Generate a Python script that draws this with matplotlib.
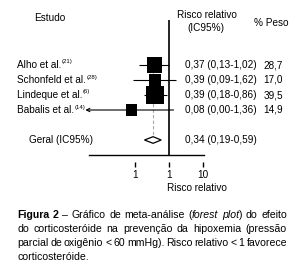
import matplotlib
matplotlib.use("Agg")
import matplotlib.pyplot as plt
import matplotlib.transforms as mtransforms
from matplotlib.patches import Polygon
from matplotlib.ticker import NullLocator

plt.rcParams['font.family'] = ['Liberation Sans Narrow', 'Liberation Sans', 'DejaVu Sans']

# ==============================
# DATA
# ==============================

studies = ["Alho et al.", "Schonfeld et al.", "Lindeque et al.", "Babalis et al."]
refs = ["(21)", "(28)", "(6)", "(14)"]
rr = [0.37, 0.39, 0.39, 0.08]
ci_low = [0.13, 0.09, 0.18, 0.00]
ci_high = [1.02, 1.62, 0.86, 1.36]
weights = [28.7, 17.0, 39.5, 14.9]

pooled_label = "Geral (IC95%)"
pooled_rr = 0.34
pooled_low = 0.19
pooled_high = 0.59

xticks = [0.1, 1, 10]
xtick_labels = ["1", "1", "10"]

caption = [
    [[("Figura", "bold", "normal")], [("2", "bold", "normal")], "–", "Gráfico", "de",
     "meta-análise", [("(", "normal", "normal"), ("forest", "normal", "italic")],
     [("plot", "normal", "italic"), (")", "normal", "normal")], "do", "efeito"],
    ["do", "corticosteróide", "na", "prevenção", "da", "hipoxemia", "(pressão"],
    ["parcial", "de", "oxigênio", "<", "60", "mmHg).", "Risco", "relativo", "<", "1", "favorece"],
]
caption_last = "corticosteróide."

# ==============================
# FIGURE SETUP
# ==============================

W, H = 304, 280
fig = plt.figure(figsize=(W / 100, H / 100), dpi=100)


def fx(x):
    return x / W


def fy(y):
    return 1 - y / H


fs = 7.2
ax = fig.add_axes([fx(89), fy(155), fx(204) - fx(89), fy(20) - fy(155)])
ax.set_xscale("log")
ax.set_xlim(10 ** (-80 / 34), 10 ** (35 / 34))
ax.set_ylim(6, -3)
ax.patch.set_alpha(0)

for side in ["top", "right", "left"]:
    ax.spines[side].set_visible(False)
ax.spines["bottom"].set_position(("outward", 5))
ax.spines["bottom"].set_color("none")
ax.axhline(6, color="black", lw=1.0, clip_on=False)
ax.set_yticks([])
ax.xaxis.set_minor_locator(NullLocator())
ax.set_xticks(xticks, xtick_labels)
ax.tick_params(axis="x", direction="out", length=3.6, width=1, labelsize=fs, pad=2)

# ==============================
# FOREST PLOT
# ==============================

rows = list(range(len(studies)))
left_edge = ax.get_xlim()[0]

ax.axvline(1, color="black", lw=1.2, zorder=2)
ax.vlines(pooled_rr, -0.4, 5 - 0.2, colors="#a8a8a8", linestyles=(0, (3, 2)), lw=0.8, zorder=1)

for r, lo, hi in zip(rows, ci_low, ci_high):
    if lo <= left_edge:
        ax.annotate("", xy=(left_edge * 0.78, r), xytext=(hi, r),
                    arrowprops=dict(arrowstyle="->", lw=0.8, color="black",
                                    shrinkA=0, shrinkB=0, mutation_scale=6),
                    annotation_clip=False)
    else:
        ax.hlines(r, lo, hi, colors="black", lw=0.8, zorder=2)

ax.scatter(rr, rows, s=[4.27 * w for w in weights], marker="s", color="black",
           linewidths=0, zorder=3)

diamond = Polygon([(pooled_low, 5), (pooled_rr, 5 - 0.22), (pooled_high, 5), (pooled_rr, 5 + 0.22)],
                  closed=True, facecolor="white", edgecolor="black", lw=0.9, zorder=3)
ax.add_patch(diamond)

# ==============================
# TEXT COLUMNS
# ==============================

trans = mtransforms.blended_transform_factory(fig.transFigure, ax.transData)

fig.text(fx(50), fy(18), "Estudo", ha="center", va="center", fontsize=fs)
fig.text(fx(207), fy(15), "Risco relativo", ha="center", va="center", fontsize=fs)
fig.text(fx(206), fy(28), "(IC95%)", ha="center", va="center", fontsize=fs)
fig.text(fx(271), fy(23), "% Peso", ha="center", va="center", fontsize=fs)
fig.text(fx(197), fy(188), "Risco relativo", ha="center", va="center", fontsize=fs)

fig.canvas.draw()
renderer = fig.canvas.get_renderer()


def fmt(v):
    return f"{v:.2f}".replace(".", ",")


for r, name, ref, est, lo, hi, w in zip(rows, studies, refs, rr, ci_low, ci_high, weights):
    t = ax.text(fx(17), r, name, transform=trans, ha="left", va="center", fontsize=fs)
    bb = t.get_window_extent(renderer)
    fig.text((bb.x1 + 0.5) / W, (bb.y1 + 0.5) / H, ref, ha="left", va="top", fontsize=4.3)
    ax.text(fx(185), r, f"{fmt(est)} ({fmt(lo)}-{fmt(hi)})", transform=trans,
            ha="left", va="center", fontsize=fs)
    ax.text(fx(283), r, f"{w:.1f}".replace(".", ","), transform=trans,
            ha="right", va="center", fontsize=fs)

ax.text(fx(29), 5, pooled_label, transform=trans, ha="left", va="center", fontsize=fs)
ax.text(fx(185), 5, f"{fmt(pooled_rr)} ({fmt(pooled_low)}-{fmt(pooled_high)})", transform=trans,
        ha="left", va="center", fontsize=fs)

# ==============================
# CAPTION (justified)
# ==============================

cap_fs = 7.6


def draw_line(words, y, x0, x1):
    items = []
    for word in words:
        if isinstance(word, str):
            word = [(word, "normal", "normal")]
        segs = []
        for text, weight, style in word:
            t = fig.text(0, fy(y), text, fontsize=cap_fs, fontweight=weight,
                         fontstyle=style, ha="left", va="center")
            segs.append((t, t.get_window_extent(renderer).width))
        items.append(segs)
    total = sum(w for segs in items for _, w in segs)
    gap = (x1 - x0 - total) / (len(items) - 1)
    x = x0
    for segs in items:
        for t, w in segs:
            t.set_x(fx(x))
            x += w
        x += gap


for i, words in enumerate(caption):
    draw_line(words, 215 + 14 * i, 17, 287)
fig.text(fx(17), fy(215 + 14 * len(caption)), caption_last, fontsize=cap_fs, ha="left", va="center")

fig.savefig("out.png", dpi=100)
